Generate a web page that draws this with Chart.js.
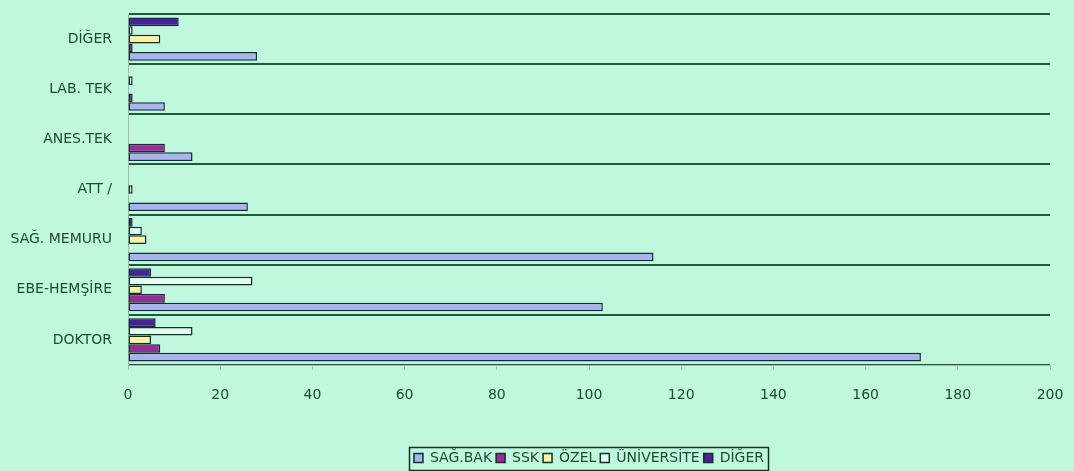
<!DOCTYPE html>
<html>
<head>
<meta charset="utf-8">
<script src="https://cdn.jsdelivr.net/npm/chart.js@4"></script>
<style>
  html, body { margin: 0; padding: 0; background: #bff8dc; }
  #wrap { width: 1074px; height: 471px; position: relative; }
</style>
</head>
<body>
<div id="wrap"><canvas id="c"></canvas></div>
<script>
// Categories listed top to bottom as they appear
const categories = ['DİĞER', 'LAB. TEK', 'ANES.TEK', 'ATT /', 'SAĞ. MEMURU', 'EBE-HEMŞİRE', 'DOKTOR'];
const sagBak     = [28, 8, 14, 26, 114, 103, 172];
const ssk        = [1, 1, 8, 0, 0, 8, 7];
const ozel       = [7, 0, 0, 1, 4, 3, 5];
const universite = [1, 1, 0, 0, 3, 27, 14];
const diger      = [11, 0, 0, 0, 1, 5, 6];
const xTicks = [0, 20, 40, 60, 80, 100, 120, 140, 160, 180, 200];

const BG = '#bff8dc';
const TEXT = '#1d4a33';
const EDGE = '#12302a';
const GRID = '#1c5a3a';
const AXIS = '#9fbcae';

function ds(label, data, color) {
  return {
    label, data,
    backgroundColor: color,
    borderColor: EDGE,
    borderWidth: 1.5,
    borderSkipped: false,
    categoryPercentage: 0.86,
    barPercentage: 1.0
  };
}

const bgPlugin = {
  id: 'bg',
  beforeDraw(chart) {
    const { ctx, width, height } = chart;
    ctx.save();
    ctx.fillStyle = BG;
    ctx.fillRect(0, 0, width, height);
    ctx.restore();
  }
};

const legendPlace = {
  id: 'legendPlace',
  afterLayout(chart) {
    const lg = chart.legend;
    if (!lg) return;
    const ca = chart.chartArea;
    const h = lg.bottom - lg.top;
    lg.left = ca.left;
    lg.right = ca.right;
    lg.width = ca.right - ca.left;
    lg.top = 447;
    lg.bottom = 447 + h;
  },
  afterDraw(chart) {
    const lg = chart.legend;
    if (!lg || !lg.legendHitBoxes || !lg.legendHitBoxes.length) return;
    let l = Infinity, r = -Infinity;
    lg.legendHitBoxes.forEach(b => { l = Math.min(l, b.left); r = Math.max(r, b.left + b.width); });
    const ctx = chart.ctx;
    ctx.save();
    ctx.strokeStyle = EDGE;
    ctx.lineWidth = 1.5;
    ctx.strokeRect(Math.round(l) - 4.5, 447.5, Math.round(r - l) + 9, 23);
    ctx.restore();
  }
};

new Chart(document.getElementById('c'), {
  type: 'bar',
  data: {
    labels: categories,
    datasets: [
      ds('DİĞER', diger, '#4b1fa3'),
      ds('ÜNİVERSİTE', universite, '#e4fdf1'),
      ds('ÖZEL', ozel, '#fff3a0'),
      ds('SSK', ssk, '#a3269f'),
      ds('SAĞ.BAK', sagBak, '#aab2f3')
    ]
  },
  plugins: [bgPlugin, legendPlace],
  options: {
    indexAxis: 'y',
    responsive: true,
    maintainAspectRatio: false,
    animation: false,
    layout: { padding: { top: 14, right: 24, bottom: 0, left: 0 } },
    scales: {
      x: {
        min: 0, max: 200,
        afterBuildTicks(scale) { scale.ticks = xTicks.map(v => ({ value: v })); },
        afterFit(scale) {
          scale.height = 78;
          scale.paddingLeft = 0; scale.paddingRight = 0;
        },
        grid: { drawOnChartArea: false, drawTicks: true, tickLength: 5, color: AXIS, lineWidth: 1 },
        border: { display: true, color: AXIS, width: 1 },
        ticks: { color: TEXT, font: { family: 'DejaVu Sans', size: 14 }, padding: 17, maxRotation: 0 }
      },
      y: {
        afterFit(scale) {
          scale.width = 128;
          scale.paddingTop = 0; scale.paddingBottom = 0;
        },
        grid: {
          offset: true,
          drawTicks: false,
          color: (c) => (c.index === categories.length ? 'rgba(0,0,0,0)' : GRID),
          lineWidth: 2
        },
        border: { display: true, color: AXIS, width: 1 },
        ticks: { color: TEXT, font: { family: 'DejaVu Sans', size: 14 }, padding: 16 }
      }
    },
    plugins: {
      legend: {
        position: 'bottom',
        reverse: true,
        labels: {
          color: TEXT,
          font: { family: 'DejaVu Sans', size: 14 },
          boxWidth: 9,
          boxHeight: 9,
          padding: 4
        }
      },
      tooltip: { enabled: false }
    }
  }
});
</script>
</body>
</html>
